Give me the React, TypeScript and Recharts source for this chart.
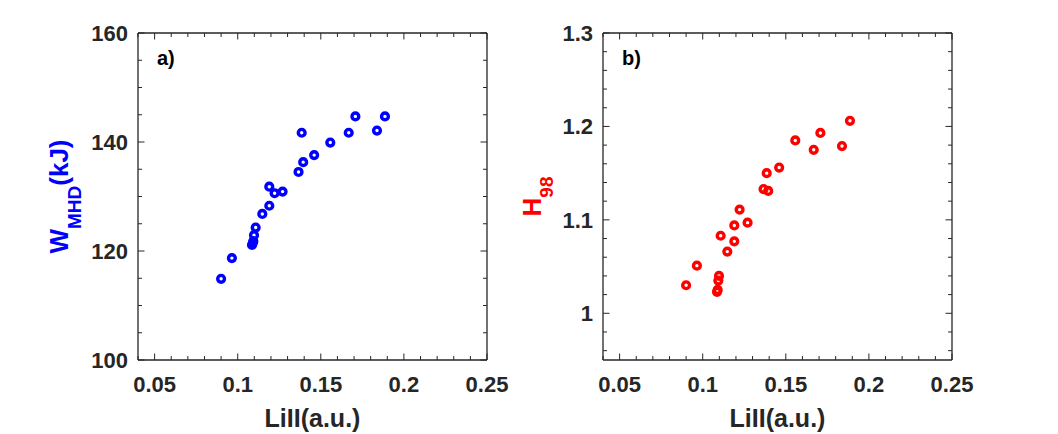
import React from "react";
import { ScatterChart, Scatter, XAxis, YAxis } from "recharts";

// shared LiII values (a.u.), one per shot
const liII = [
  0.09, 0.0965, 0.1086, 0.109, 0.1094, 0.1098, 0.1108, 0.1148, 0.119, 0.119,
  0.1222, 0.127, 0.1366, 0.1394, 0.1385, 0.146, 0.1557, 0.1668, 0.1708, 0.1838,
  0.1886,
];
const wMhd = [
  114.9, 118.7, 121.1, 121.4, 121.8, 122.9, 124.3, 126.8, 128.3, 131.8, 130.6,
  130.9, 134.5, 136.3, 141.7, 137.6, 139.9, 141.7, 144.7, 142.1, 144.7,
];
const h98 = [
  1.03, 1.051, 1.023, 1.025, 1.035, 1.04, 1.083, 1.066, 1.077, 1.094, 1.111,
  1.097, 1.133, 1.131, 1.15, 1.156, 1.185, 1.175, 1.193, 1.179, 1.206,
];

const xMinorTicks = [
  0.04, 0.05, 0.06, 0.07, 0.08, 0.09, 0.1, 0.11, 0.12, 0.13, 0.14, 0.15, 0.16,
  0.17, 0.18, 0.19, 0.2, 0.21, 0.22, 0.23, 0.24, 0.25,
];
const xMajorTicks = [0.05, 0.1, 0.15, 0.2, 0.25];
const wMinorTicks = [100, 105, 110, 115, 120, 125, 130, 135, 140, 145, 150, 155, 160];
const wMajorTicks = [100, 120, 140, 160];
const hMinorTicks = [
  0.96, 0.98, 1, 1.02, 1.04, 1.06, 1.08, 1.1, 1.12, 1.14, 1.16, 1.18, 1.2, 1.22,
  1.24, 1.26, 1.28, 1.3,
];
const hMajorTicks = [1, 1.1, 1.2, 1.3];

const AXIS = "#262626";
const FONT = "'Liberation Sans', Arial, sans-serif";
const MAJOR_LEN = 6.5;
const MINOR_LEN = 4;

const isMajor = (v: number, majors: number[]) =>
  majors.some((m) => Math.abs(m - v) < 1e-9);

type Side = "bottom" | "top" | "left" | "right";

const makeTick = (side: Side, majors: number[], labels: boolean) => (props: any) => {
  const { x, y, payload } = props;
  const major = isMajor(payload.value, majors);
  const len = major ? MAJOR_LEN : MINOR_LEN;
  let line;
  if (side === "bottom") line = { x1: x, x2: x, y1: y, y2: y - len };
  else if (side === "top") line = { x1: x, x2: x, y1: y, y2: y + len };
  else if (side === "left") line = { x1: x, x2: x + len, y1: y, y2: y };
  else line = { x1: x, x2: x - len, y1: y, y2: y };
  return (
    <g>
      <line {...line} stroke={AXIS} strokeWidth={1} />
      {labels && major && (
        <text
          x={side === "bottom" ? x : x - 10}
          y={side === "bottom" ? y + 32 : y + 8}
          textAnchor={side === "bottom" ? "middle" : "end"}
          fontFamily={FONT}
          fontWeight="bold"
          fontSize={22}
          fill={AXIS}
        >
          {String(payload.value)}
        </text>
      )}
    </g>
  );
};

const Ring = (color: string) => (props: any) => {
  const { cx, cy } = props;
  if (cx == null || cy == null) return null;
  return <circle cx={cx} cy={cy} r={3.4} fill="none" stroke={color} strokeWidth={3.4} />;
};

interface PanelProps {
  values: number[];
  color: string;
  yDomain: [number, number];
  yMinor: number[];
  yMajor: number[];
  width: number;
  marginLeft: number;
  marginRight: number;
}

function Panel({ values, color, yDomain, yMinor, yMajor, width, marginLeft, marginRight }: PanelProps) {
  const data = liII.map((x, i) => ({ x, y: values[i] }));
  const axisLine = { stroke: AXIS, strokeWidth: 1.3 };
  return (
    <ScatterChart
      width={width}
      height={434}
      margin={{ top: 23, right: marginRight, bottom: 44, left: marginLeft }}
    >
      <XAxis
        xAxisId="b"
        dataKey="x"
        type="number"
        domain={[0.04, 0.25]}
        allowDataOverflow
        ticks={xMinorTicks}
        interval={0}
        height={30}
        tickSize={0}
        tickMargin={0}
        tickLine={false}
        axisLine={axisLine}
        tick={makeTick("bottom", xMajorTicks, true)}
      />
      <XAxis
        xAxisId="t"
        orientation="top"
        dataKey="x"
        type="number"
        domain={[0.04, 0.25]}
        allowDataOverflow
        ticks={xMinorTicks}
        interval={0}
        height={10}
        tickSize={0}
        tickMargin={0}
        tickLine={false}
        axisLine={axisLine}
        tick={makeTick("top", xMajorTicks, false)}
      />
      <YAxis
        yAxisId="l"
        dataKey="y"
        type="number"
        domain={yDomain}
        allowDataOverflow
        ticks={yMinor}
        interval={0}
        width={40}
        tickSize={0}
        tickMargin={0}
        tickLine={false}
        axisLine={axisLine}
        tick={makeTick("left", yMajor, true)}
      />
      <YAxis
        yAxisId="r"
        orientation="right"
        dataKey="y"
        type="number"
        domain={yDomain}
        allowDataOverflow
        ticks={yMinor}
        interval={0}
        width={10}
        tickSize={0}
        tickMargin={0}
        tickLine={false}
        axisLine={axisLine}
        tick={makeTick("right", yMajor, false)}
      />
      <Scatter
        data={data}
        xAxisId="b"
        yAxisId="l"
        shape={Ring(color)}
        isAnimationActive={false}
      />
    </ScatterChart>
  );
}

export default function App() {
  return (
    <div
      style={{
        position: "absolute",
        left: 0,
        top: 0,
        width: 1058,
        height: 434,
        background: "#ffffff",
      }}
    >
      <div style={{ position: "absolute", left: 0, top: 0 }}>
        <Panel
          values={wMhd}
          color="#0000ff"
          yDomain={[100, 160]}
          yMinor={wMinorTicks}
          yMajor={wMajorTicks}
          width={520}
          marginLeft={98}
          marginRight={23}
        />
      </div>
      <div style={{ position: "absolute", left: 520, top: 0 }}>
        <Panel
          values={h98}
          color="#ff0000"
          yDomain={[0.95, 1.3]}
          yMinor={hMinorTicks}
          yMajor={hMajorTicks}
          width={538}
          marginLeft={43}
          marginRight={96}
        />
      </div>
      <svg
        width={1058}
        height={434}
        style={{ position: "absolute", left: 0, top: 0, pointerEvents: "none" }}
        fontFamily={FONT}
        fontWeight="bold"
      >
        <text x={157} y={65} fontSize={20} fill="#000">a)</text>
        <text x={622} y={65} fontSize={20} fill="#000">b)</text>
        <text x={312.5} y={427} fontSize={25} fill={AXIS} textAnchor="middle">
          LiII(a.u.)
        </text>
        <text x={777.5} y={427} fontSize={25} fill={AXIS} textAnchor="middle">
          LiII(a.u.)
        </text>
        <text
          transform="translate(68,196.5) rotate(-90)"
          textAnchor="middle"
          fontSize={26}
          fill="#0000ff"
        >
          W<tspan fontSize={19} dy={13}>MHD</tspan>
          <tspan dy={-13}>(kJ)</tspan>
        </text>
        <text
          transform="translate(541,196.5) rotate(-90)"
          textAnchor="middle"
          fontSize={26}
          fill="#ff0000"
        >
          H<tspan fontSize={19} dy={12}>98</tspan>
        </text>
      </svg>
    </div>
  );
}
